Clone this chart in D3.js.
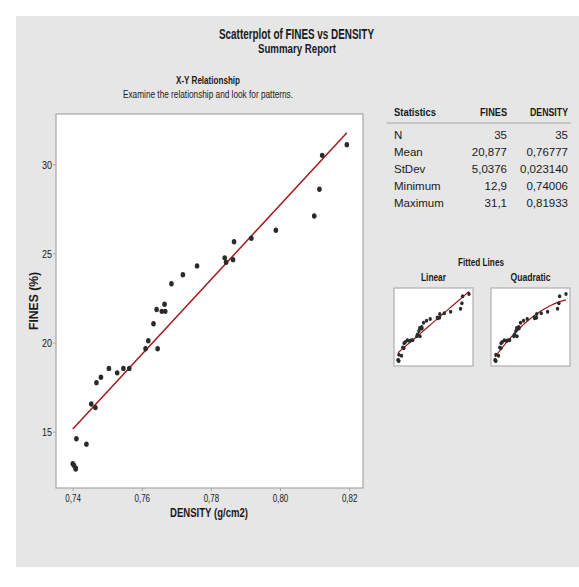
<!DOCTYPE html>
<html><head><meta charset="utf-8">
<script src="https://cdn.jsdelivr.net/npm/d3@7"></script>
<style>
html,body{margin:0;padding:0;background:#fff;}
svg text{font-family:"Liberation Sans",Arial,sans-serif;fill:#1a1a1a;}
</style></head>
<body>
<svg id="c" width="579" height="587"></svg>
<script>
// ---- data ----
const density = [0.74006,0.7404,0.7409,0.7409,0.7411,0.7440,0.7454,0.7466,0.7469,0.7482,0.7505,0.7529,0.7547,0.7564,0.7611,0.7619,0.7646,0.7634,0.7643,0.7658,0.7668,0.7666,0.7686,0.7719,0.7760,0.7840,0.7844,0.7864,0.7867,0.7917,0.7988,0.8099,0.8114,0.8122,0.81933];
const fines   = [13.2,13.1,12.9,12.95,14.6,14.3,16.55,16.35,17.75,18.05,18.55,18.3,18.55,18.55,19.65,20.1,19.65,21.05,21.85,21.75,21.75,22.15,23.3,23.8,24.3,24.75,24.5,24.65,25.65,25.85,26.3,27.1,28.6,30.5,31.1];
const xTicks = [0.74,0.76,0.78,0.80,0.82];
const yTicks = [15,20,25,30];
const statRows = ["N","Mean","StDev","Minimum","Maximum"];
const statFines = ["35","20,877","5,0376","12,9","31,1"];
const statDensity = ["35","0,76777","0,023140","0,74006","0,81933"];
const statHeaders = ["Statistics","FINES","DENSITY"];

const svg = d3.select("#c");
const fmt = d => d3.format(".2f")(d).replace(".", ",");
const fit = (sel,w) => sel.attr("textLength",w).attr("lengthAdjust","spacingAndGlyphs");
svg.append("rect").attr("x",16).attr("y",16).attr("width",563).attr("height",551).attr("fill","#e6e6e6");

// titles
fit(svg.append("text").attr("x",296.5).attr("y",38.5).attr("text-anchor","middle").attr("font-size",14.5).attr("font-weight","bold").text("Scatterplot of FINES vs DENSITY"),155);
fit(svg.append("text").attr("x",297).attr("y",52.5).attr("text-anchor","middle").attr("font-size",13).attr("font-weight","bold").text("Summary Report"),78);
fit(svg.append("text").attr("x",208).attr("y",84).attr("text-anchor","middle").attr("font-size",10.5).attr("font-weight","bold").text("X-Y Relationship"),64);
fit(svg.append("text").attr("x",208).attr("y",98).attr("text-anchor","middle").attr("font-size",10.5).text("Examine the relationship and look for patterns."),170);

// regression helpers
const pts = density.map((d,i)=>({x:d,y:fines[i]}));
const mx = d3.mean(density), my = d3.mean(fines);
const sxy = d3.sum(pts,p=>(p.x-mx)*(p.y-my)), sxx = d3.sum(pts,p=>(p.x-mx)**2);
const b1 = sxy/sxx, b0 = my - b1*mx;
function quadFit(){
  let S=[0,0,0,0,0], T=[0,0,0];
  pts.forEach(p=>{const u=p.x-mx; for(let k=0;k<5;k++) S[k]+=u**k; for(let k=0;k<3;k++) T[k]+=p.y*u**k;});
  const A=[[S[0],S[1],S[2]],[S[1],S[2],S[3]],[S[2],S[3],S[4]]];
  const det=m=>m[0][0]*(m[1][1]*m[2][2]-m[1][2]*m[2][1])-m[0][1]*(m[1][0]*m[2][2]-m[1][2]*m[2][0])+m[0][2]*(m[1][0]*m[2][1]-m[1][1]*m[2][0]);
  const D=det(A); const c=[];
  for(let j=0;j<3;j++){const M=A.map((r,i)=>r.map((v,k)=>k===j?T[i]:v)); c.push(det(M)/D);}
  return x=>{const u=x-mx; return c[0]+c[1]*u+c[2]*u*u;};
}
const qf = quadFit();
const xMin=d3.min(density), xMax=d3.max(density);

// main plot
const L=56,R=363,T=114,B=488;
const x = d3.scaleLinear().domain([0.7352,0.8240]).range([L,R]);
const y = d3.scaleLinear().domain([11.84,32.82]).range([B,T]);
svg.append("rect").attr("x",L).attr("y",T).attr("width",R-L).attr("height",B-T).attr("fill","#fff").attr("stroke","#a6a6a6").attr("stroke-width",1.2);
const xa = svg.append("g").attr("transform",`translate(0,${B})`).call(d3.axisBottom(x).tickValues(xTicks).tickFormat(fmt).tickSize(3).tickSizeOuter(0));
const ya = svg.append("g").attr("transform",`translate(${L},0)`).call(d3.axisLeft(y).tickValues(yTicks).tickSize(3).tickSizeOuter(0));
[xa,ya].forEach(a=>{a.select(".domain").remove(); a.selectAll("line").attr("stroke","#a6a6a6"); a.selectAll("text").attr("font-size",10.5).attr("fill","#1a1a1a").style("font-family",'"Liberation Sans",Arial,sans-serif');});
fit(xa.selectAll("text").attr("y",14).attr("dy",0),15.5);
fit(ya.selectAll("text").attr("x",-4).attr("dy","0.36em"),10);
svg.append("path").attr("d",d3.line().x(d=>x(d)).y(d=>y(b0+b1*d))([xMin,xMax])).attr("stroke","#a3191c").attr("stroke-width",1.5).attr("fill","none");
svg.append("g").selectAll("ellipse").data(pts).join("ellipse").attr("cx",d=>x(d.x)).attr("cy",d=>y(d.y)).attr("rx",2.3).attr("ry",2.7).attr("fill","#2b2b2b");
fit(svg.append("text").attr("x",209).attr("y",517).attr("text-anchor","middle").attr("font-size",12.5).attr("font-weight","bold").text("DENSITY (g/cm2)"),78);
fit(svg.append("text").attr("transform","translate(37.5,301) rotate(-90)").attr("text-anchor","middle").attr("font-size",12).attr("font-weight","bold").text("FINES (%)"),58);

// statistics table
const c0=394, c1=507, c2=568;
fit(svg.append("text").attr("x",c0).attr("y",116).attr("font-size",10.5).attr("font-weight","bold").text(statHeaders[0]),42);
fit(svg.append("text").attr("x",c1).attr("y",116).attr("text-anchor","end").attr("font-size",10.5).attr("font-weight","bold").text(statHeaders[1]),27);
fit(svg.append("text").attr("x",c2).attr("y",116).attr("text-anchor","end").attr("font-size",10.5).attr("font-weight","bold").text(statHeaders[2]),38);
svg.append("line").attr("x1",387).attr("x2",571).attr("y1",123).attr("y2",123).attr("stroke","#a6a6a6");
statRows.forEach((r,i)=>{
  const yy=139+i*17;
  svg.append("text").attr("x",c0).attr("y",yy).attr("font-size",11.5).text(r);
  svg.append("text").attr("x",c1).attr("y",yy).attr("text-anchor","end").attr("font-size",11.5).text(statFines[i]);
  svg.append("text").attr("x",c2).attr("y",yy).attr("text-anchor","end").attr("font-size",11.5).text(statDensity[i]);
});

// fitted lines panels
fit(svg.append("text").attr("x",481).attr("y",266).attr("text-anchor","middle").attr("font-size",10.5).attr("font-weight","bold").text("Fitted Lines"),46);
const panels=[{name:"Linear",x0:394,f:d=>b0+b1*d,w:25},{name:"Quadratic",x0:491,f:qf,w:40}];
panels.forEach(p=>{
  const w=79,h=78,t=288;
  const sx=d3.scaleLinear().domain([xMin,xMax]).range([p.x0+4,p.x0+w-4]);
  const sy=d3.scaleLinear().domain([d3.min(fines),d3.max(fines)]).range([t+h-5,t+6]);
  fit(svg.append("text").attr("x",p.x0+w/2).attr("y",281).attr("text-anchor","middle").attr("font-size",10.5).attr("font-weight","bold").text(p.name),p.w);
  svg.append("rect").attr("x",p.x0).attr("y",t).attr("width",w).attr("height",h).attr("fill","#fff").attr("stroke","#b0b0b0").attr("stroke-width",1.2);
  const xs=d3.range(41).map(i=>xMin+(xMax-xMin)*i/40);
  svg.append("path").attr("d",d3.line().x(d=>sx(d)).y(d=>sy(p.f(d)))(xs)).attr("stroke","#a3191c").attr("stroke-width",1.2).attr("fill","none");
  svg.append("g").selectAll("ellipse").data(pts).join("ellipse").attr("cx",d=>sx(d.x)).attr("cy",d=>sy(d.y)).attr("rx",1.7).attr("ry",2).attr("fill","#2b2b2b");
});
</script>
</body></html>
